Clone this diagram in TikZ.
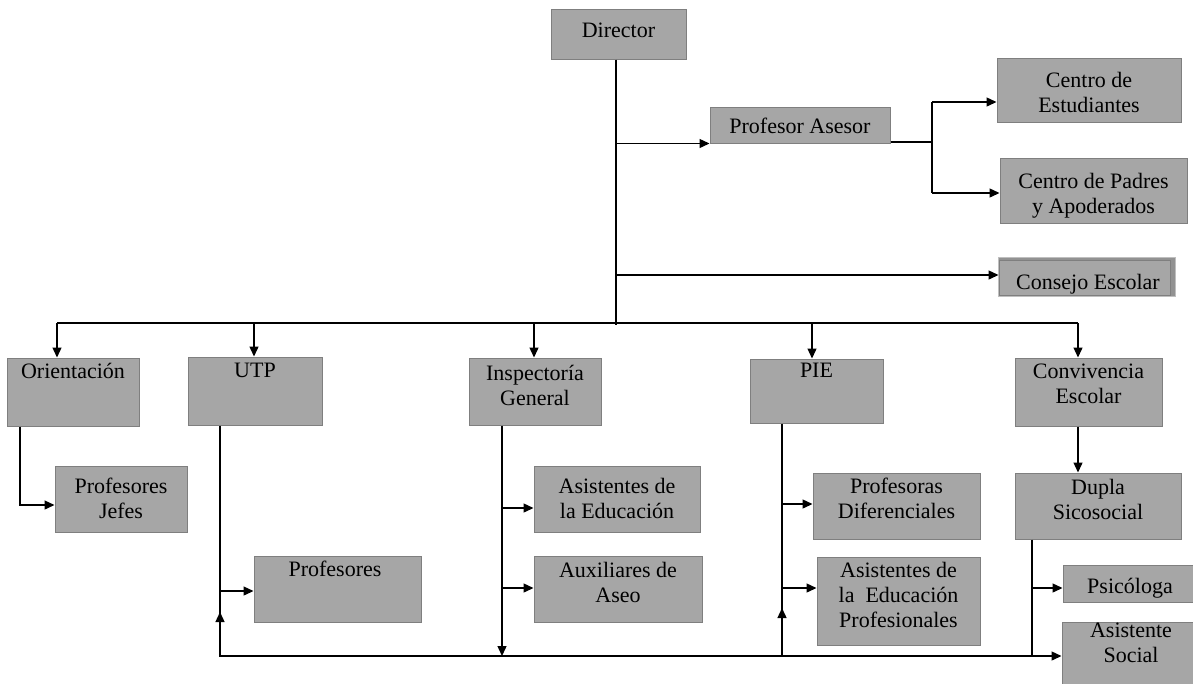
\documentclass[tikz,border=0pt]{standalone}
\usepackage{fontspec}
\setmainfont{Liberation Serif}
\usetikzlibrary{arrows.meta,fit}
\definecolor{boxfill}{HTML}{A6A6A6}
\definecolor{boxline}{HTML}{7F7F7F}
\begin{document}
\begin{tikzpicture}[x=1pt,y=-1pt,
  box/.style={draw=boxline, fill=boxfill, line width=1pt, inner sep=0pt},
  txt/.style={font=\fontsize{22}{25}\selectfont, align=center, anchor=north, inner sep=0pt},
  conn/.style={line width=1.35pt, draw=black},
  arr/.style={conn, -{Triangle[length=10pt,width=9pt]}}]
\useasboundingbox (0,0) rectangle (1193,683);
\clip (0,0) rectangle (1193,683);

% ---------- boxes ----------
\node[box, fit={(551,9) (686,59)}] (dir) {};
\node[txt] (dirt) at (dir.north |- 0,23) {Director};

\node[box, fit={(710,107) (890,143)}] (prof) {};
\node[txt] (proft) at (prof.north |- 0,118) {Profesor Asesor};

\node[box, fit={(997,58) (1181,122)}] (ce) {};
\node[txt] (cet) at (ce.north |- 0,72) {Centro de\\Estudiantes};

\node[box, fit={(1000,158) (1187,223)}] (cp) {};
\node[txt] (cpt) at (cp.north |- 0,173) {Centro de Padres\\y Apoderados};

\filldraw[fill=boxfill!88!black, draw=boxline!50, line width=0.8pt] (998,257) rectangle (1175,296);
\node[box, fit={(999,260) (1170,295)}] (cons) {};
\node[txt] (const) at (1088,274) {Consejo Escolar};

\node[box, fit={(7,358) (139,426)}] (ori) {};
\node[txt] (orit) at (ori.north |- 0,363) {Orientación};

\node[box, fit={(188,357) (322,425)}] (utp) {};
\node[txt] (utpt) at (utp.north |- 0,363) {UTP};

\node[box, fit={(469,358) (601,425)}] (insp) {};
\node[txt] (inspt) at (insp.north |- 0,365) {Inspectoría\\General};

\node[box, fit={(750,359) (883,423)}] (pie) {};
\node[txt] (piet) at (pie.north |- 0,363) {PIE};

\node[box, fit={(1015,358) (1162,426)}] (conv) {};
\node[txt] (convt) at (conv.north |- 0,364) {Convivencia\\Escolar};

\node[box, fit={(55,466) (187,532)}] (pjefes) {};
\node[txt] (pjefest) at (pjefes.north |- 0,478) {Profesores\\Jefes};

\node[box, fit={(254,556) (421,622)}] (profs) {};
\node[txt] (profst) at (335,561) {Profesores};

\node[box, fit={(534,466) (700,532)}] (asis) {};
\node[txt] (asist) at (asis.north |- 0,478) {Asistentes de\\la Educación};

\node[box, fit={(534,556) (702,622)}] (aux) {};
\node[txt] (auxt) at (aux.north |- 0,562) {Auxiliares de\\Aseo};

\node[box, fit={(813,473) (980,539)}] (pd) {};
\node[txt] (pdt) at (pd.north |- 0,478) {Profesoras\\Diferenciales};

\node[box, fit={(817,557) (980,645)}] (aep) {};
\node[txt] (aept) at (aep.north |- 0,562) {Asistentes de\\la~~Educación\\Profesionales};

\node[box, fit={(1015,473) (1181,539)}] (dupla) {};
\node[txt] (duplat) at (dupla.north |- 0,479) {Dupla\\Sicosocial};

\node[box, fit={(1063,565) (1199,602)}] (psi) {};
\node[txt] (psit) at (1130,578) {Psicóloga};

\node[box, fit={(1062,622) (1199,692)}] (asoc) {};
\node[txt] (asoct) at (1131,623) {Asistente\\Social};

% ---------- connectors ----------
\coordinate (tb) at (616,325);
\draw[conn] (dir.south -| tb) -- (tb);
\draw[arr] (prof.south west -| tb) -- (prof.south west);

\coordinate (pj) at (932,142);
\draw[conn] (prof.south east |- pj) -- (pj);
\coordinate (j1) at (932,102);
\coordinate (j2) at (932,193);
\draw[conn] (j1) -- (j2);
\draw[arr] (j1) -- (j1 -| ce.west);
\draw[arr] (j2) -- (j2 -| cp.west);

\coordinate (c1) at (616,275);
\draw[arr] (c1) -- (c1 -| cons.west);

% bus
\coordinate (bo) at (57,323);
\coordinate (bu) at (254,323);
\coordinate (bi) at (534,323);
\coordinate (bp) at (812,323);
\coordinate (bc) at (1078,323);
\draw[conn] (bo) -- (bc);
\draw[arr] (bo) -- (bo |- ori.north);
\draw[arr] (bu) -- (bu |- utp.north);
\draw[arr] (bi) -- (bi |- insp.north);
\draw[arr] (bp) -- (bp |- pie.north);
\draw[arr] (bc) -- (bc |- conv.north);
\draw[arr] (conv.south -| bc) -- (bc |- dupla.north);

% Orientacion
\coordinate (o1) at (20,505);
\draw[arr] (ori.south -| o1) -- (o1) -- (o1 -| pjefes.west);

% UTP and bottom line
\coordinate (ub) at (220,656);
\coordinate (dl) at (1032,656);
\draw[conn] (utp.south -| ub) -- (ub) -- (dl);
\coordinate (u1) at (220,591);
\draw[arr] (u1) -- (u1 -| profs.west);
\coordinate (uh) at (220,612);
\draw[arr] (ub) -- (uh);

% Inspectoria
\coordinate (i1) at (502,508);
\coordinate (i2) at (502,588);
\coordinate (ib) at (502,656);
\draw[arr] (insp.south -| ib) -- (ib);
\draw[arr] (i1) -- (i1 -| asis.west);
\draw[arr] (i2) -- (i2 -| aux.west);

% PIE
\coordinate (p1) at (782,504);
\coordinate (p2) at (782,588);
\coordinate (pb) at (782,656);
\coordinate (ph) at (782,608);
\draw[conn] (pie.south -| pb) -- (pb);
\draw[arr] (pb) -- (ph);
\draw[arr] (p1) -- (p1 -| pd.west);
\draw[arr] (p2) -- (p2 -| aep.west);

% Dupla
\coordinate (d1) at (1032,588);
\draw[conn] (dupla.south -| dl) -- (dl);
\draw[arr] (d1) -- (d1 -| psi.west);
\draw[arr] (dl) -- (dl -| asoc.west);
\end{tikzpicture}
\end{document}
